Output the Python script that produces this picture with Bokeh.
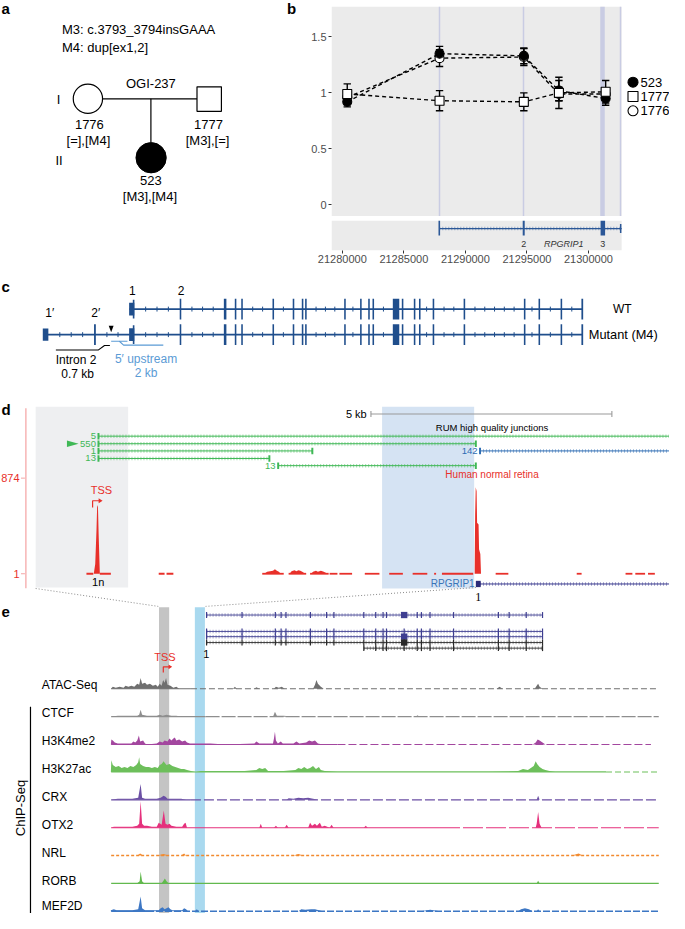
import numpy as np
from bokeh.plotting import figure
from bokeh.layouts import row, column
from bokeh.models import Range1d, FixedTicker, BoxAnnotation, CustomJSTickFormatter
from bokeh.core.properties import value
from bokeh.embed import file_html
from bokeh.resources import INLINE

# ======================= DATA =======================
# ---- panel a : pedigree
ped_mutations = ["M3: c.3793_3794insGAAA", "M4: dup[ex1,2]"]
ped_family = "OGI-237"
ped_ids = ["1776", "1777", "523"]
ped_genotypes = ["[=],[M4]", "[M3],[=]", "[M3],[M4]"]
ped_generations = ["I", "II"]

# ---- panel b : relative copy number along RPGRIP1
b_samples = ["523", "1777", "1776"]
b_pos = [21280400, 21287900, 21294750, 21297600, 21301400]
b_523 = [0.92, 1.35, 1.33, 1.02, 0.95]
b_523_err = [0.045, 0.065, 0.07, 0.09, 0.06]
b_1777 = [0.99, 0.93, 0.92, 1.00, 1.01]
b_1777_err = [0.09, 0.09, 0.08, 0.14, 0.10]
b_1776 = [0.96, 1.31, 1.32, 0.99, 0.99]
b_1776_err = [0.05, 0.075, 0.075, 0.06, 0.05]
b_exon_lines = [21287880, 21294740, 21301170, 21302620]
b_gene_exons = [21287880, 21294740, 21301170]
b_gene_labels = ["2", "RPGRIP1", "3"]
b_gene_label_pos = [21294740, 21298000, 21301170]
b_gene_start = 21287880
b_gene_end_tick = 21302620
b_xticks = [21280000, 21285000, 21290000, 21295000, 21300000]
b_yticks = [0, 0.5, 1, 1.5]

# ---- panel c : exon structure (WT vs mutant M4)
c_exons = [184.3, 230, 240.7, 247.3, 279.3, 300, 309.3, 312.7, 352.7, 369, 377.3,
           381.7, 405, 411.7, 424, 429.3, 443.3, 475, 536.7, 551.7, 574.3, 595.7]
c_exon_w = [1.6, 2.6, 1.6, 1.6, 1.6, 1.6, 1.6, 1.6, 1.6, 1.6, 1.6,
            1.6, 6.6, 1.6, 1.6, 1.6, 1.6, 1.6, 1.6, 1.6, 1.6, 1.8]
c_exon_labels = ["1", "2"]
c_dup_labels = ["1\u2032", "2\u2032"]
c_rows = ["WT", "Mutant (M4)"]

# ---- panel d : RNA-seq junctions and coverage
d_junc_labels = ["5", "550", "1", "13", "13", "142"]
d_junc_y = [443.3, 451, 458.3, 466, 473.3, 458.3]
d_junc_x0 = [99.3, 99.3, 99.3, 99.3, 283.3, 490]
d_junc_x1 = [685, 486.7, 319.3, 275.3, 486.7, 685]
d_cov_peaks = [(95.5, 0), (97, 10), (98.3, 45), (99, 70), (99.8, 68), (100.5, 40), (101.7, 0),
               (270, 0), (273, 2), (276, 2.5), (279, 3), (281, 4.5), (283, 3), (285, 2), (287, 0),
               (296, 0), (298, 2.5), (301, 3.5), (303, 2.5), (305, 3.5), (307, 3), (309, 2), (312, 0),
               (318, 0), (320, 2), (323, 3), (325, 2), (328, 3), (331, 2), (333, 1), (335, 0),
               (485.5, 0), (486, 60), (486.6, 88), (487.5, 84), (488, 52), (489.5, 50),
               (490, 25), (491.3, 20), (492, 0)]
d_cov_segments = [(88, 95), (101.7, 113), (162, 168), (170, 177), (268, 290), (295, 313),
                  (317, 336), (337, 345), (347, 360), (373, 388), (398, 412), (422, 437),
                  (444, 446), (452, 484), (507, 520), (590, 595), (640, 647), (650, 660), (663, 670)]
d_axis_labels = ["874", "1"]

# ---- panel e : transcripts, ATAC-seq and ChIP-seq tracks
e_tx_y = [625.3, 642, 647.3, 653.3, 659]
e_tx_x0 = [211, 211, 211, 211, 372]
e_tx_x1 = [555, 555, 555, 555, 555]
e_tx_exons = [211, 247.3, 281.4, 287.3, 292.3, 317.3, 333.9, 341.4, 372, 384.2, 391.7,
              395.2, 413.3, 426.7, 431, 439.8, 463.9, 509.8, 520.8, 538.3, 555]
e_tracks = ["ATAC-Seq", "CTCF", "H3K4me2", "H3K27ac", "CRX", "OTX2", "NRL", "RORB", "MEF2D"]
e_colors = ["#6f6f6f", "#8e8e8e", "#a3479f", "#6dbf5b", "#6b4fa4", "#e5307c", "#f28a2e", "#62b94e", "#3d77c4"]
atac = [(113, 0), (115, 2), (118, 1), (122, 2), (126, 1), (128, 3), (131, 2), (134, 3), (137, 2), (140, 5),
        (142, 4), (143.5, 11), (145, 5), (148, 6), (150, 4), (153, 5), (156, 3), (159, 4), (161, 2), (163, 5),
        (165, 3), (166.5, 9), (168, 6), (169.5, 11), (171, 4), (174, 3), (177, 1), (180, 2), (183, 0),
        (238, 0), (240, 2), (242, 0), (260, 0), (262, 1.5), (265, 0), (280, 0), (282, 2), (285, 1), (288, 2),
        (291, 0), (320, 0), (322, 4), (323.5, 9), (325, 5), (328, 2), (331, 0), (508, 0), (511, 2), (514, 0),
        (547, 0), (549, 3), (550.5, 5), (552, 2), (555, 0)]
ctcf = [(113, 0), (120, 1), (130, 1), (140, 1), (142, 2), (143.5, 7), (145, 2), (150, 1), (160, 1), (163, 2),
        (166, 1), (170, 2), (175, 1), (180, 1), (186, 0), (279, 0), (281, 5), (283, 1), (290, 1), (300, 0),
        (425, 0), (427, 1.5), (429, 0)]
h3k4me2 = [(113, 0), (113.5, 5), (115, 4), (117, 2), (120, 1), (134, 1), (136, 3), (138, 2), (140, 4),
           (141.7, 9), (143, 3), (146, 4), (148, 1), (150, 0), (160, 1), (163, 3), (166, 2), (168, 4), (171, 3),
           (173, 6), (175, 4), (177, 6), (178.5, 7), (180, 4), (183, 5), (186, 3), (189, 4), (191, 2), (194, 1),
           (200, 1), (215, 1), (230, 0), (260, 1), (262, 3), (265, 1), (270, 1), (279, 1), (280, 6), (281, 13),
           (282, 4), (284, 1), (287, 3), (289, 1), (300, 1), (303, 3), (306, 1), (313, 2), (316, 4), (319, 3),
           (322, 4), (325, 1), (330, 0), (545, 0), (548, 2), (550, 5), (552, 4), (555, 2), (558, 0)]
h3k27ac = [(113, 0), (113.5, 12), (115, 7), (118, 5), (121, 6), (124, 4), (127, 5), (130, 4), (133, 6),
           (136, 5), (139, 7), (141, 10), (142, 15), (143, 8), (146, 6), (149, 5), (152, 5), (155, 4), (158, 5),
           (161, 4), (163, 7), (165, 8), (167, 11), (168.5, 9), (170, 7), (173, 8), (176, 6), (179, 5), (182, 4),
           (185, 3), (188, 3), (191, 2), (195, 1), (200, 0), (205, 1), (250, 1), (262, 2), (265, 4), (268, 3),
           (271, 4), (274, 1), (290, 1), (302, 2), (305, 4), (308, 3), (311, 5), (314, 3), (317, 4), (320, 6),
           (323, 3), (326, 5), (328, 2), (332, 1), (345, 0.5), (500, 0.5), (530, 1), (535, 3), (540, 2),
           (543, 4), (546, 6), (548, 11), (549.5, 8), (552, 5), (555, 3), (558, 2), (562, 1), (568, 0.5), (620, 0.5)]
crx = [(113, 0), (120, 1), (135, 1), (141, 2), (143.5, 16), (145, 2), (148, 1), (160, 1), (164, 2), (167, 4),
       (169, 3), (171, 1), (185, 1), (190, 0), (293, 0), (295, 1.5), (300, 1), (305, 2), (310, 1.5), (315, 2),
       (320, 1), (325, 0), (549, 0), (550.5, 4), (552, 0)]
otx2 = [(113, 0), (116, 1), (125, 1), (135, 1), (140, 2), (142, 4), (143.5, 27), (145, 4), (147, 2), (150, 2),
        (155, 1), (160, 1), (162, 5), (163.5, 4), (165, 3), (167.2, 17.5), (169, 4), (171, 3), (173, 4),
        (175, 2), (180, 1), (186, 1), (188, 4), (189.5, 5), (191, 0), (265, 0), (266.5, 4), (268, 0),
        (280, 0), (282, 2), (284, 0), (291, 0), (293, 3), (295, 0), (315, 0), (317, 5), (319, 2), (322, 4),
        (324, 2), (327, 5), (329, 1), (332, 2), (337, 0), (339, 3), (341, 0), (372, 0), (374, 2), (376, 0),
        (548, 0), (549, 4), (550.5, 16), (552, 4), (554, 0)]
nrl = [(140, 0), (143, 2), (146, 0), (160, 0), (167, 1.5), (172, 0), (185, 0), (188, 2), (190, 0), (300, 0),
       (305, 1.5), (310, 0), (585, 0), (592, 2), (596, 0)]
rorb = [(140, 0), (142.5, 2), (143.5, 12), (145, 2), (147, 0), (165, 0), (167, 3), (168.3, 5), (170, 2),
        (172, 0), (549, 0), (550.5, 2.5), (552, 0)]
mef2d = [(113, 1), (116, 2), (119, 1), (135, 1), (141, 2), (143.5, 15), (145, 3), (148, 1), (162, 1), (164, 3),
         (166, 4), (168, 2), (170, 3), (172, 4), (174, 2), (176, 1), (186, 1), (188, 3), (190, 2), (192, 0),
         (199, 0), (201, 2), (203, 0), (305, 0), (308, 2), (312, 1.5), (318, 2), (322, 2), (326, 1), (330, 0),
         (430, 0), (440, 1.5), (450, 0), (530, 0), (533, 2), (537, 3), (541, 2), (545, 0), (549, 0),
         (550.5, 2), (552, 0)]
e_profiles = [atac, ctcf, h3k4me2, h3k27ac, crx, otx2, nrl, rorb, mef2d]

# ======================= LAYOUT / STYLE =======================
FONT = "Liberation Sans"
W, H = 669, 913
SX, SY = W / 685.0, H / 929.0
TOP_H, A_W = 273, 303
B_W = W - A_W
B_LEFT, B_TOP, B1_H = 28, 6, 216
B2_H = TOP_H - B1_H


def bp(refx):
    return 21280000 + (refx - 350.0) * 5000.0 / 63.0


def val(refy):
    return (208.0 - refy) / 114.0


B_X0, B_X1 = bp((A_W + B_LEFT) / SX), bp(685.0)
B_Y0, B_Y1 = val(B1_H / SY), val(B_TOP / SY)
B_PANEL_END = bp(636.0)


def blank(w, h, xr, yr):
    p = figure(width=w, height=h, x_range=Range1d(*xr), y_range=Range1d(*yr),
               output_backend="svg", toolbar_location=None,
               x_axis_location=None, y_axis_location=None, min_border=0)
    p.xgrid.visible = False
    p.ygrid.visible = False
    p.grid.visible = False
    p.outline_line_color = None
    p.background_fill_color = "white"
    p.border_fill_color = "white"
    return p


def T(p, x, y, s, size, color="black", align="left", baseline="middle", style="normal",
      font=FONT, angle=0.0, **kw):
    p.text(x=[x], y=[y], text=[s], text_font=value(font), text_font_size=f"{size}px",
           text_color=color, text_align=align, text_baseline=baseline,
           text_font_style=style, angle=angle, **kw)


def chevron_line(p, x0, x1, y, color, width=1.0, alpha=0.55):
    p.segment(x0=x0, y0=y, x1=x1, y1=y, line_color=color, line_width=width)
    p.segment(x0=x0, y0=y, x1=x1, y1=y, line_color=color, line_width=3.5,
              line_dash="1 2", line_alpha=alpha)


# ======================= PANEL A =======================
fa = blank(A_W, TOP_H, (0, A_W / SX), (TOP_H / SY, 0))
T(fa, 1, 8, "a", 15, style="bold")
T(fa, 298, 8, "b", 15, style="bold", align="center")
T(fa, 63, 30, ped_mutations[0], 13)
T(fa, 63, 48, ped_mutations[1], 13)
T(fa, 154, 84, ped_family, 13, align="center")
fa.segment(x0=[104.5, 154], y0=[100, 100], x1=[201.3, 154], y1=[100, 144.5], line_color="black", line_width=1.2)
fa.scatter(x=[89.5], y=[100], size=30 * SX, marker="circle", fill_color="white", line_color="black", line_width=1.2)
fa.scatter(x=[213.7], y=[100.3], size=25 * SX, marker="square", fill_color="white", line_color="black", line_width=1.2)
fa.scatter(x=[154.2], y=[160], size=31 * SX, marker="circle", fill_color="black", line_color="black")
T(fa, 59.5, 101, ped_generations[0], 13, align="center")
T(fa, 60, 163, ped_generations[1], 13, align="center")
for (x, y0), pid, gt in zip([(91, 126), (213, 126), (154, 183)], ped_ids, ped_genotypes):
    T(fa, x, y0, pid, 13, align="center")
    T(fa, x - 1, y0 + 16.5, gt, 13, align="center")

# ======================= PANEL B =======================
fb = figure(width=B_W, height=B1_H, x_range=Range1d(B_X0, B_X1), y_range=Range1d(B_Y0, B_Y1),
            output_backend="svg", toolbar_location=None, x_axis_location=None,
            y_axis_location="left", min_border=0)
fb.min_border_left = B_LEFT
fb.min_border_top = B_TOP
fb.outline_line_color = None
fb.xgrid.visible = False
fb.ygrid.visible = False
fb.background_fill_color = "white"
fb.add_layout(BoxAnnotation(right=B_PANEL_END, fill_color="#ebebeb", fill_alpha=1.0,
                            line_color=None, level="underlay"))
fb.vspan(x=b_exon_lines, line_color="#c9cce3", line_width=[1.5, 1.5, 4.5, 1.5])
ya = fb.yaxis[0]
ya.ticker = FixedTicker(ticks=b_yticks)
ya.formatter = CustomJSTickFormatter(code="return String(tick)")
ya.axis_line_color = None
ya.major_tick_line_color = "#333333"
ya.major_tick_out, ya.major_tick_in = 3, 0
ya.minor_tick_line_color = None
ya.major_label_text_font = FONT
ya.major_label_text_font_size = "11px"
ya.major_label_text_color = "#4d4d4d"
ya.major_label_standoff = 2

series = [(b_1776, b_1776_err), (b_523, b_523_err), (b_1777, b_1777_err)]
for ys, _ in series:
    fb.line(b_pos, ys, line_color="black", line_width=1.4, line_dash="4 3")
CAP = 300
for ys, es in series:
    lo = [y - e for y, e in zip(ys, es)]
    hi = [y + e for y, e in zip(ys, es)]
    fb.segment(x0=b_pos, y0=lo, x1=b_pos, y1=hi, line_color="black", line_width=1.4)
    fb.segment(x0=[x - CAP for x in b_pos], y0=lo, x1=[x + CAP for x in b_pos], y1=lo, line_color="black", line_width=1.4)
    fb.segment(x0=[x - CAP for x in b_pos], y0=hi, x1=[x + CAP for x in b_pos], y1=hi, line_color="black", line_width=1.4)
styles = {"523": ("circle", "black"), "1777": ("square", "white"), "1776": ("circle", "white")}
for name, ys in [("1776", b_1776), ("523", b_523), ("1777", b_1777)]:
    mk, fc_ = styles[name]
    fb.scatter(b_pos, ys, marker=mk, size=9, fill_color=fc_, line_color="black", line_width=1.1)

# legend (drawn in frame pixel space)
frame_w, frame_h = B_W - B_LEFT, B1_H - B_TOP
fb.extra_x_ranges = {"px": Range1d(0, frame_w)}
fb.extra_y_ranges = {"px": Range1d(0, frame_h)}
LEG_X, LEG_Y0, LEG_DY = 301.5, 134.3, 14.3
for i, name in enumerate(b_samples):
    mk, fc_ = styles[name]
    fb.scatter([LEG_X], [LEG_Y0 - i * LEG_DY], marker=mk, size=10, fill_color=fc_, line_color="black",
               line_width=1.1, x_range_name="px", y_range_name="px")
    T(fb, LEG_X + 7.5, LEG_Y0 - i * LEG_DY, name, 13, x_range_name="px", y_range_name="px")

fb2 = figure(width=B_W, height=B2_H, x_range=fb.x_range, y_range=Range1d(0, 1),
             output_backend="svg", toolbar_location=None, x_axis_location="below",
             y_axis_location=None, min_border=0)
fb2.min_border_left = B_LEFT
fb2.min_border_top = 4
fb2.min_border_bottom = B2_H - 34
fb2.outline_line_color = None
fb2.xgrid.visible = False
fb2.ygrid.visible = False
fb2.background_fill_color = "white"
fb2.add_layout(BoxAnnotation(right=B_PANEL_END, fill_color="#ebebeb", fill_alpha=1.0,
                             line_color=None, level="underlay"))
GB = "#2b5797"
chevron_line(fb2, [b_gene_start], [B_PANEL_END], [0.73], GB, width=1.3, alpha=0.45)
fb2.segment(x0=b_gene_exons, y0=[0.5] * 3, x1=b_gene_exons, y1=[1.0] * 3, line_color=GB,
            line_width=[1.6, 2.0, 4.5])
fb2.segment(x0=[b_gene_end_tick], y0=[0.58], x1=[b_gene_end_tick], y1=[0.88], line_color=GB, line_width=1.5)
for s, x in zip(b_gene_labels, b_gene_label_pos):
    T(fb2, x, 0.22, s, 9, color="#333333", align="center", style="italic" if len(s) > 1 else "normal")
xa = fb2.xaxis[0]
xa.ticker = FixedTicker(ticks=b_xticks)
xa.formatter = CustomJSTickFormatter(code="return String(tick)")
xa.axis_line_color = None
xa.major_tick_line_color = "#333333"
xa.major_tick_out, xa.major_tick_in = 3, 0
xa.minor_tick_line_color = None
xa.major_label_text_font = FONT
xa.major_label_text_font_size = "11px"
xa.major_label_text_color = "#4d4d4d"
xa.major_label_standoff = 1

# ======================= BOTTOM (c, d, e) =======================
fc = blank(W, H - TOP_H, (0, 685), (929, TOP_H / SY))

# ---- panel c
C_COL = "#1f4e8c"
C_WT, C_MUT, C_END = 314.0, 340.0, 595.7
T(fc, 1, 291, "c", 15, style="bold")
fc.segment(x0=[132, 43.5], y0=[C_WT, C_MUT], x1=[C_END, C_END], y1=[C_WT, C_MUT], line_color=C_COL, line_width=1.6)


def intron_ticks(feats, spacing=12.0):
    out = []
    for (a0, a1), (b0, b1) in zip(feats[:-1], feats[1:]):
        gap = b0 - a1
        n = int(gap // spacing)
        if n >= 1:
            step = gap / (n + 1)
            out += [a1 + step * (i + 1) for i in range(n)]
    return out


ex_feats = [(x - w / 2, x + w / 2) for x, w in zip(c_exons, c_exon_w)]
for yy, lead in [(C_WT, [(131.7, 137)]), (C_MUT, [(43.3, 49), (95.8, 97.6), (131.7, 137)])]:
    fc.quad(left=[a for a, b in ex_feats], right=[b for a, b in ex_feats], top=[yy - 10.5] * len(ex_feats),
            bottom=[yy + 10.5] * len(ex_feats), fill_color=C_COL, line_color=None)
    fc.quad(left=[131.7], right=[137], top=[yy - 6.5], bottom=[yy + 6.5], fill_color=C_COL, line_color=None)
    fc.segment(x0=[136.3], y0=[yy - 9.5], x1=[136.3], y1=[yy + 9.5], line_color=C_COL, line_width=1.6)
    tks = intron_ticks(lead + ex_feats)
    fc.segment(x0=tks, y0=[yy - 2.5] * len(tks), x1=tks, y1=[yy + 2.5] * len(tks), line_color=C_COL, line_width=1.0)
fc.quad(left=[43.3], right=[49], top=[C_MUT - 6.3], bottom=[C_MUT + 6.3], fill_color=C_COL, line_color=None)
fc.segment(x0=[96.7], y0=[C_MUT - 10.5], x1=[96.7], y1=[C_MUT + 10.5], line_color=C_COL, line_width=1.8)
T(fc, 135, 295, c_exon_labels[0], 12, align="center")
T(fc, 185, 295, c_exon_labels[1], 12, align="center")
T(fc, 50.5, 318, c_dup_labels[0], 12, align="center")
T(fc, 97.5, 318, c_dup_labels[1], 12, align="center")
T(fc, 636.7, C_WT, c_rows[0], 12, align="center")
T(fc, 602.3, C_MUT, c_rows[1], 12.8)
fc.patch([110.8, 115.8, 113.3], [331, 331, 337.5], fill_color="black", line_color=None)
fc.line([56.7, 100, 106.5, 112], [355.7, 355.7, 351, 351], line_color="black", line_width=1.1)
LB = "#5b9bd5"
fc.segment(x0=[113.3], y0=[346.7], x1=[130], y1=[346.7], line_color=LB, line_width=1.1)
fc.line([121.7, 126, 166.7], [346.7, 350.7, 350.7], line_color=LB, line_width=1.1)
T(fc, 77.3, 366, "Intron 2", 12, align="center")
T(fc, 79, 380, "0.7 kb", 12, align="center")
T(fc, 149, 365, "5\u2032 upstream", 12, color=LB, align="center")
T(fc, 149, 379, "2 kb", 12, color=LB, align="center")

# ---- panel d
RED = "#e8302a"
GREEN = "#3fb856"
JBLUE = "#2f6db3"
D_BASE = 583.3
T(fc, 1, 416, "d", 15, style="bold")
fc.quad(left=[36], right=[130.7], top=[413.3], bottom=[597.3], fill_color="#eeeff1", line_color=None)
fc.quad(left=[390.7], right=[485], top=[413.3], bottom=[598.3], fill_color="#d5e3f3", line_color=None)
fc.segment(x0=[26], y0=[415], x1=[26], y1=[598], line_color="#f4a3a3", line_width=1.2)
fc.segment(x0=[21, 21], y0=[486, D_BASE], x1=[25, 25], y1=[486, D_BASE], line_color="#f4a3a3", line_width=1.0)
T(fc, 19.5, 486, d_axis_labels[0], 11, color=RED, align="right")
T(fc, 19.5, D_BASE, d_axis_labels[1], 11, color=RED, align="right")
T(fc, 375, 420.7, "5 kb", 11, align="right")
fc.segment(x0=[379.3, 379.3, 626], y0=[420.7, 417.7, 417.7], x1=[626, 379.3, 626], y1=[420.7, 423.7, 423.7],
           line_color="#9a9a9a", line_width=1.1)
T(fc, 503.3, 434.3, "RUM high quality junctions", 9.5, align="center")
for lab, y, x0, x1, i in zip(d_junc_labels, d_junc_y, d_junc_x0, d_junc_x1, range(len(d_junc_labels))):
    col = JBLUE if i == 5 else GREEN
    chevron_line(fc, [x0 + 1], [x1], [y], col, width=1.0, alpha=0.5)
    fc.quad(left=[x0], right=[x0 + 2], top=[y - 3.3], bottom=[y + 3.3], fill_color=col, line_color=None)
    if x1 < 680:
        fc.quad(left=[x1 - 1], right=[x1 + 1], top=[y - 3.3], bottom=[y + 3.3], fill_color=col, line_color=None)
    T(fc, x0 - 1.6, y, lab, 9.5, color=col, align="right")
fc.patch([68, 80, 68], [447.6, 451, 454.4], fill_color=GREEN, line_color=None)
T(fc, 503.3, 482.7, "Human normal retina", 10, color=RED, align="center")
dx = [p[0] for p in d_cov_peaks]
dh = [D_BASE - p[1] for p in d_cov_peaks]
fc.varea(x=dx, y1=[D_BASE] * len(dx), y2=dh, fill_color=RED)
fc.segment(x0=[a for a, b in d_cov_segments], y0=[D_BASE] * len(d_cov_segments),
           x1=[b for a, b in d_cov_segments], y1=[D_BASE] * len(d_cov_segments), line_color=RED, line_width=1.8)
T(fc, 103.3, 498.3, "TSS", 11, color=RED, align="center")
fc.line([94.3, 94.3, 101], [516, 509, 509], line_color=RED, line_width=1.2)
fc.patch([100.5, 104.5, 100.5], [506.5, 509, 511.5], fill_color=RED, line_color=None)
T(fc, 100, 591.7, "1n", 11, align="center")
NAVY = "#3b3b8f"
chevron_line(fc, [491], [685], [593.7], NAVY, width=1.0, alpha=0.5)
fc.quad(left=[486.7], right=[491.7], top=[590.5], bottom=[596.9], fill_color="#2b2b78", line_color=None)
T(fc, 485.5, 593.5, "RPGRIP1", 10, color="#3a75b8", align="right")
T(fc, 489.3, 606.7, "1", 12, font="Liberation Serif", align="center")
fc.segment(x0=[36, 486.7], y0=[598.3, 597.3], x1=[161.5, 210], y1=[616.5, 616.5], line_color="#8a8a8a",
           line_width=1.0, line_dash="1 2")

# ---- panel e
T(fc, 1, 622, "e", 15, style="bold")
fc.quad(left=[162.3], right=[172.7], top=[617.5], bottom=[929], fill_color="#c4c4c4", line_color=None)
fc.quad(left=[199], right=[209.3], top=[617.5], bottom=[929], fill_color="#a9d9ef", line_color=None)
for i, (y, x0, x1) in enumerate(zip(e_tx_y, e_tx_x0, e_tx_x1)):
    col = "#2a2a2a" if i >= 3 else "#3e3e91"
    chevron_line(fc, [x0], [x1], [y], col, width=0.9, alpha=0.45)
    ex = [x for x in e_tx_exons if x0 - 0.5 <= x <= x1 + 0.5]
    fc.segment(x0=ex, y0=[y - 3] * len(ex), x1=ex, y1=[y + 3] * len(ex), line_color=col, line_width=1.2)
    if i in (0, 2, 3):
        fc.quad(left=[410], right=[416.6], top=[y - 3.2], bottom=[y + 3.2], fill_color=col, line_color=None)
T(fc, 210.7, 665.3, "1", 11, align="center")
T(fc, 168.3, 667.7, "TSS", 11, color=RED, align="center")
fc.line([166.7, 166.7, 172.5], [683.7, 678, 678], line_color=RED, line_width=1.2)
fc.patch([172, 175.8, 172], [675.6, 678, 680.4], fill_color=RED, line_color=None)

e_label_y = [697, 725, 753.7, 781.7, 810, 839, 867.3, 895.7, 921.5]
e_base_y = [700.3, 728.7, 757, 785, 813.3, 841.7, 870, 898.3, 926.7]
e_line_style = [(195, "6 3", 674), (210, "14 2", 674), (345, "8 3", 666), (620, "6 3", 674),
                (195, "10 3", 674), (450, "20 3", 674), (113.3, "3 2", 674), (674, "4 2", 674),
                (150, "7 2", 674)]
e_line_w = [1.1, 1.1, 1.1, 1.1, 1.2, 1.1, 1.7, 1.1, 1.3]
for name, ly, base, col, prof, (s_end, dash, x_end), lw in zip(e_tracks, e_label_y, e_base_y, e_colors,
                                                              e_profiles, e_line_style, e_line_w):
    T(fc, 42.3, ly, name, 12)
    if s_end > 113.3:
        fc.segment(x0=[113.3], y0=[base], x1=[s_end], y1=[base], line_color=col, line_width=lw)
    if s_end < x_end:
        fc.segment(x0=[s_end], y0=[base], x1=[x_end], y1=[base], line_color=col, line_width=lw, line_dash=dash)
    px = [p[0] for p in prof]
    ph = [base - p[1] for p in prof]
    fc.varea(x=px, y1=[base] * len(px), y2=ph, fill_color=col)
fc.segment(x0=[30.7], y0=[718.7], x1=[30.7], y1=[929], line_color="black", line_width=1.2)
T(fc, 20.7, 821.7, "ChIP-Seq", 13, align="center", angle=np.pi / 2)

layout = column(row(fa, column(fb, fb2, spacing=0), spacing=0), fc, spacing=0)
open("out.html", "w").write(file_html(layout, INLINE))
